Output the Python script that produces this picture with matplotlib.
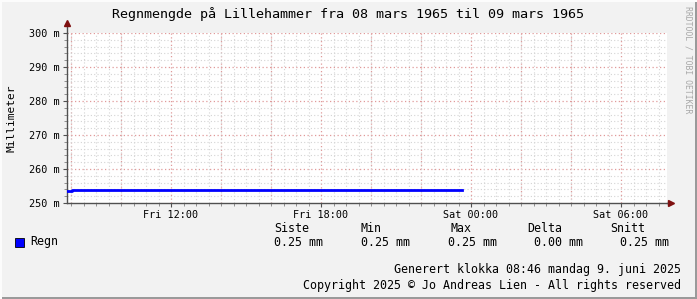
import matplotlib
matplotlib.use('Agg')
import matplotlib.pyplot as plt
from matplotlib.ticker import MultipleLocator, FixedLocator, FuncFormatter
from matplotlib.patches import Rectangle

# data (timer fra fredag 00:00, verdier i milli-mm)
rain_t = [7.84, 8.04, 23.64]
rain_val = [253.5, 253.8, 253.8]
x_start, x_end = 7.84, 31.84
y_min, y_max = 250, 300

tick_hours = [12, 18, 24, 30]
tick_labels = ['Fri 12:00', 'Fri 18:00', 'Sat 00:00', 'Sat 06:00']

legend_cols = ['Siste', 'Min', 'Max', 'Delta', 'Snitt']
legend_vals = ['0.25 mm', '0.25 mm', '0.25 mm', '0.00 mm', '0.25 mm']

W, H = 697, 299
BG = '#f2f2f2'
MONO = ['DejaVu Sans Mono']


def fx(x):
    return x / W


def fy(y):
    return 1 - y / H


fig = plt.figure(figsize=(W / 100, H / 100), dpi=100, facecolor=BG)
ax = fig.add_axes([fx(67), fy(203), fx(667) - fx(67), fy(33) - fy(203)])
ax.set_facecolor('white')

ax.plot(rain_t, rain_val, drawstyle='steps-post', color='#0000ff', lw=2, zorder=3)

ax.set_xlim(x_start, x_end)
ax.set_ylim(y_min, y_max)

# grid
ax.xaxis.set_major_locator(FixedLocator(tick_hours))
ax.xaxis.set_major_formatter(FuncFormatter(lambda v, p: tick_labels[tick_hours.index(int(round(v)))] if int(round(v)) in tick_hours else ''))
ax.xaxis.set_minor_locator(MultipleLocator(0.5))
ax.yaxis.set_major_locator(MultipleLocator(10))
ax.yaxis.set_major_formatter(FuncFormatter(lambda v, p: '%d m' % v))
ax.yaxis.set_minor_locator(MultipleLocator(2))

ax.grid(which='minor', color='#d4d4d4', lw=0.8, ls=(0, (1, 2)), zorder=0)
for h in range(8, 32, 2):
    ax.axvline(h, color='#e09a9a', lw=0.9, ls=(0, (1, 2)), zorder=1)
for v in range(260, 301, 10):
    ax.axhline(v, color='#e09a9a', lw=0.9, ls=(0, (1, 2)), zorder=1)

for s in ['top', 'right']:
    ax.spines[s].set_visible(False)
for s in ['left', 'bottom']:
    ax.spines[s].set_color('#505050')
    ax.spines[s].set_linewidth(1)

ax.tick_params(which='major', length=3, width=0.8, color='#505050', pad=2,
               labelsize=7.3, labelcolor='black')
ax.tick_params(which='minor', length=2, width=0.6, color='#808080')
for lab in ax.get_xticklabels() + ax.get_yticklabels():
    lab.set_family(MONO)

# pil-ender
ax.plot([0, 0], [1, 1.06], transform=ax.transAxes, color='#505050', lw=1, clip_on=False)
ax.plot([0], [1.06], marker='^', ms=4, color='#7f1010', transform=ax.transAxes, clip_on=False)
ax.plot([1, 1.006], [0, 0], transform=ax.transAxes, color='#505050', lw=1, clip_on=False)
ax.plot([1.006], [0], marker='>', ms=4, color='#7f1010', transform=ax.transAxes, clip_on=False)

# tekster
fig.text(fx(348), fy(14), 'Regnmengde på Lillehammer fra 08 mars 1965 til 09 mars 1965',
         ha='center', va='center', fontsize=9.6, family=MONO)
fig.text(fx(12), fy(118), 'Millimeter', rotation=90, ha='center', va='center',
         fontsize=8, family=MONO)
fig.text(fx(688), fy(6), 'RRDTOOL / TOBI OETIKER', rotation=-90, ha='center', va='top',
         fontsize=5.9, family=MONO, color='#a8a8a8')

col_x = [292, 371, 461, 545, 628]
val_x = [323, 410, 497, 583, 669]
for cx, name in zip(col_x, legend_cols):
    fig.text(fx(cx), fy(229), name, ha='center', va='center', fontsize=8.4, family=MONO)
for vx, val in zip(val_x, legend_vals):
    fig.text(fx(vx), fy(242), val, ha='right', va='center', fontsize=8.4, family=MONO)

fig.patches.append(Rectangle((fx(15), fy(247)), fx(9), fy(238) - fy(247), transform=fig.transFigure,
                             facecolor='#0000ff', edgecolor='black', lw=0.6))
fig.text(fx(30), fy(242), 'Regn', ha='left', va='center', fontsize=8.4, family=MONO)

fig.text(fx(681), fy(270), 'Generert klokka 08:46 mandag 9. juni 2025', ha='right', va='center',
         fontsize=8.4, family=MONO)
fig.text(fx(681), fy(285), 'Copyright 2025 © Jo Andreas Lien - All rights reserved', ha='right',
         va='center', fontsize=8.4, family=MONO)

# ramme
fig.patches.append(Rectangle((0, 0), 1, fy(297), transform=fig.transFigure, facecolor='#9a9a9a', lw=0))
fig.patches.append(Rectangle((fx(695), 0), fx(2), 1, transform=fig.transFigure, facecolor='#9a9a9a', lw=0))
fig.patches.append(Rectangle((0, fy(2)), 1, fy(0) - fy(2), transform=fig.transFigure, facecolor='#fcfcfc', lw=0))
fig.patches.append(Rectangle((0, 0), fx(2), 1, transform=fig.transFigure, facecolor='#fcfcfc', lw=0))

fig.savefig('out.png', dpi=100, facecolor=BG)
